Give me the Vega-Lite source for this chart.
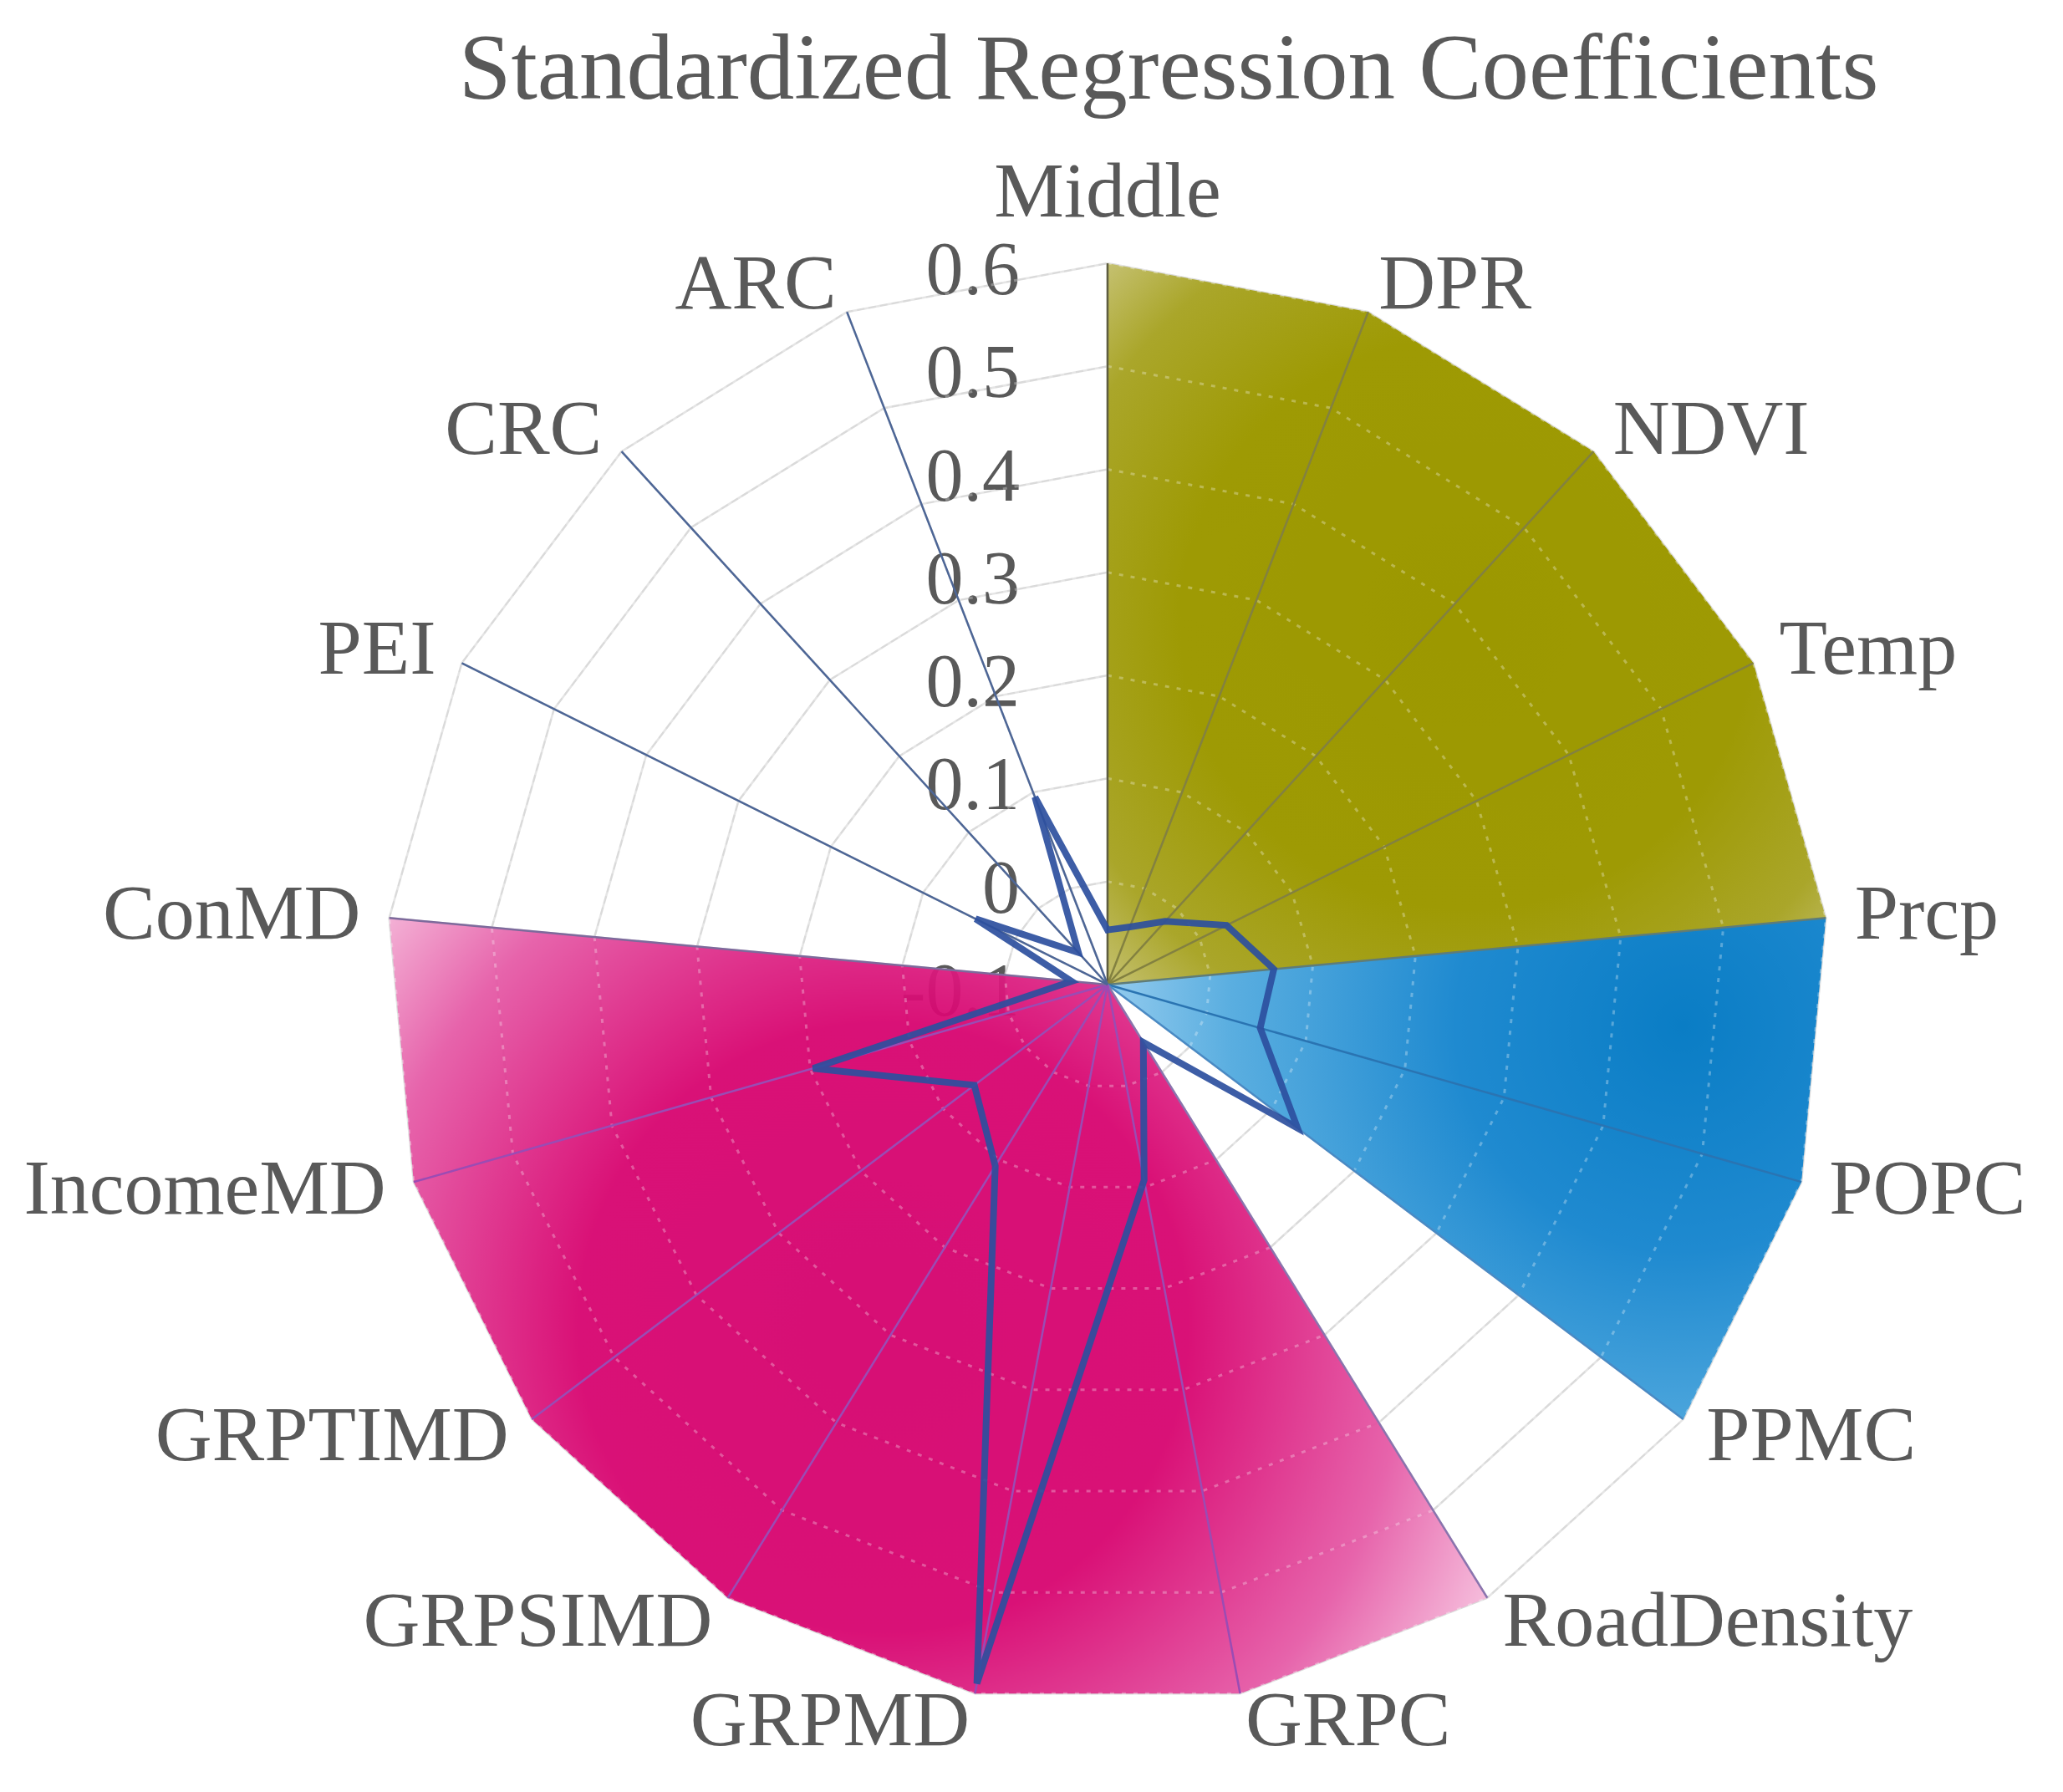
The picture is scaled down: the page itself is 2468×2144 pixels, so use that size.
{
  "$schema": "https://vega.github.io/schema/vega-lite/v6.json",
  "width": 2468,
  "height": 1944,
  "autosize": "none",
  "padding": {"top": 200, "left": 0, "right": 0, "bottom": 0},
  "background": "white",
  "title": {"text": "Standardized Regression Coefficients", "font": "Liberation Serif", "fontSize": 113, "fontWeight": "normal", "color": "#595959", "anchor": "middle", "frame": "group", "baseline": "alphabetic", "offset": 77, "dx": 164, "dy": 124},
  "config": {"view": {"stroke": null}},
  "datasets": {
    "coef": [
      {"name": "Middle", "idx": 0, "coef": -0.047},
      {"name": "DPR", "idx": 1, "coef": -0.04},
      {"name": "NDVI", "idx": 2, "coef": -0.017},
      {"name": "Temp", "idx": 3, "coef": 0.029},
      {"name": "Prcp", "idx": 4, "coef": 0.062},
      {"name": "POPC", "idx": 5, "coef": 0.054},
      {"name": "PPMC", "idx": 6, "coef": 0.131},
      {"name": "RoadDensity", "idx": 7, "coef": -0.034},
      {"name": "GRPC", "idx": 8, "coef": 0.093},
      {"name": "GRPMD", "idx": 9, "coef": 0.59},
      {"name": "GRPSIMD", "idx": 10, "coef": 0.107},
      {"name": "GRPTIMD", "idx": 11, "coef": 0.062},
      {"name": "IncomeMD", "idx": 12, "coef": 0.197},
      {"name": "ConMD", "idx": 13, "coef": -0.065},
      {"name": "PEI", "idx": 14, "coef": 0.043},
      {"name": "CRC", "idx": 15, "coef": -0.058},
      {"name": "ARC", "idx": 16, "coef": 0.095}
    ],
    "grid": [
      {"level": 0.0, "idx": [0,1,2,3,4,5,6,7,8,9,10,11,12,13,14,15,16]},
      {"level": 0.1, "idx": [0,1,2,3,4,5,6,7,8,9,10,11,12,13,14,15,16]},
      {"level": 0.2, "idx": [0,1,2,3,4,5,6,7,8,9,10,11,12,13,14,15,16]},
      {"level": 0.3, "idx": [0,1,2,3,4,5,6,7,8,9,10,11,12,13,14,15,16]},
      {"level": 0.4, "idx": [0,1,2,3,4,5,6,7,8,9,10,11,12,13,14,15,16]},
      {"level": 0.5, "idx": [0,1,2,3,4,5,6,7,8,9,10,11,12,13,14,15,16]},
      {"level": 0.6, "idx": [0,1,2,3,4,5,6,7,8,9,10,11,12,13,14,15,16]}
    ],
    "ticks": [
      {"t": -0.1, "lab": "-0.1"},
      {"t": 0.0, "lab": "0"},
      {"t": 0.1, "lab": "0.1"},
      {"t": 0.2, "lab": "0.2"},
      {"t": 0.3, "lab": "0.3"},
      {"t": 0.4, "lab": "0.4"},
      {"t": 0.5, "lab": "0.5"},
      {"t": 0.6, "lab": "0.6"}
    ],
    "bands": [
      {"band": "olive", "idx": 0, "v": 0.6}, {"band": "olive", "idx": 1, "v": 0.6}, {"band": "olive", "idx": 2, "v": 0.6},
      {"band": "olive", "idx": 3, "v": 0.6}, {"band": "olive", "idx": 4, "v": 0.6}, {"band": "olive", "idx": 5, "v": -0.1},
      {"band": "olive", "idx": 6, "v": -0.1}, {"band": "olive", "idx": 7, "v": -0.1}, {"band": "olive", "idx": 8, "v": -0.1},
      {"band": "olive", "idx": 9, "v": -0.1}, {"band": "olive", "idx": 10, "v": -0.1}, {"band": "olive", "idx": 11, "v": -0.1},
      {"band": "olive", "idx": 12, "v": -0.1}, {"band": "olive", "idx": 13, "v": -0.1}, {"band": "olive", "idx": 14, "v": -0.1},
      {"band": "olive", "idx": 15, "v": -0.1}, {"band": "olive", "idx": 16, "v": -0.1},
      {"band": "blue", "idx": 0, "v": -0.1}, {"band": "blue", "idx": 1, "v": -0.1}, {"band": "blue", "idx": 2, "v": -0.1},
      {"band": "blue", "idx": 3, "v": -0.1}, {"band": "blue", "idx": 4, "v": 0.6}, {"band": "blue", "idx": 5, "v": 0.6},
      {"band": "blue", "idx": 6, "v": 0.6}, {"band": "blue", "idx": 7, "v": -0.1}, {"band": "blue", "idx": 8, "v": -0.1},
      {"band": "blue", "idx": 9, "v": -0.1}, {"band": "blue", "idx": 10, "v": -0.1}, {"band": "blue", "idx": 11, "v": -0.1},
      {"band": "blue", "idx": 12, "v": -0.1}, {"band": "blue", "idx": 13, "v": -0.1}, {"band": "blue", "idx": 14, "v": -0.1},
      {"band": "blue", "idx": 15, "v": -0.1}, {"band": "blue", "idx": 16, "v": -0.1},
      {"band": "pink", "idx": 0, "v": -0.1}, {"band": "pink", "idx": 1, "v": -0.1}, {"band": "pink", "idx": 2, "v": -0.1},
      {"band": "pink", "idx": 3, "v": -0.1}, {"band": "pink", "idx": 4, "v": -0.1}, {"band": "pink", "idx": 5, "v": -0.1},
      {"band": "pink", "idx": 6, "v": -0.1}, {"band": "pink", "idx": 7, "v": 0.6}, {"band": "pink", "idx": 8, "v": 0.6},
      {"band": "pink", "idx": 9, "v": 0.6}, {"band": "pink", "idx": 10, "v": 0.6}, {"band": "pink", "idx": 11, "v": 0.6},
      {"band": "pink", "idx": 12, "v": 0.6}, {"band": "pink", "idx": 13, "v": 0.6}, {"band": "pink", "idx": 14, "v": -0.1},
      {"band": "pink", "idx": 15, "v": -0.1}, {"band": "pink", "idx": 16, "v": -0.1}
    ]
  },
  "encoding": {
    "x": {"field": "px", "type": "quantitative", "scale": {"domain": [-1.0747, 0.9271], "nice": false, "zero": false}, "axis": null},
    "y": {"field": "py", "type": "quantitative", "scale": {"domain": [-0.7835, 0.7932], "nice": false, "zero": false}, "axis": null}
  },
  "layer": [
    {
      "data": {"name": "grid"},
      "transform": [
        {"flatten": ["idx"]},
        {"calculate": "2*PI*datum.idx/17", "as": "ang"},
        {"calculate": "(datum.level+0.1)*sin(datum.ang)", "as": "px"},
        {"calculate": "(datum.level+0.1)*cos(datum.ang)", "as": "py"}
      ],
      "mark": {"type": "line", "interpolate": "linear-closed", "stroke": "#dadada", "strokeWidth": 2.5},
      "encoding": {"detail": {"field": "level"}, "order": {"field": "idx"}}
    },
    {
      "data": {"name": "coef"},
      "transform": [
        {"calculate": "2*PI*datum.idx/17", "as": "ang"},
        {"calculate": "0.7*sin(datum.ang)", "as": "px"},
        {"calculate": "0.7*cos(datum.ang)", "as": "py"}
      ],
      "mark": {"type": "rule", "stroke": "#dadada", "strokeWidth": 2.5},
      "encoding": {"x2": {"datum": 0}, "y2": {"datum": 0}}
    },
    {
      "data": {"name": "ticks"},
      "transform": [
        {"calculate": "0", "as": "px"},
        {"calculate": "datum.t+0.1", "as": "py"}
      ],
      "mark": {"type": "text", "align": "right", "baseline": "middle", "dx": -105, "dy": 10, "font": "Liberation Serif", "fontSize": 90, "color": "#595959"},
      "encoding": {"text": {"field": "lab"}}
    },
    {
      "data": {"name": "bands"},
      "transform": [
        {"filter": "datum.band === 'olive'"},
        {"calculate": "2*PI*datum.idx/17", "as": "ang"},
        {"calculate": "(datum.v+0.1)*sin(datum.ang)", "as": "px"},
        {"calculate": "(datum.v+0.1)*cos(datum.ang)", "as": "py"}
      ],
      "mark": {"type": "line", "interpolate": "linear-closed", "strokeWidth": 0,
        "fill": {"gradient": "radial", "x1": 0.5, "y1": 0.5, "r1": 0, "x2": 0.5, "y2": 0.5, "r2": 0.72,
          "stops": [{"offset": 0, "color": "#9c9800"}, {"offset": 0.55, "color": "#9e9a04"}, {"offset": 0.82, "color": "#aaa62a"}, {"offset": 1, "color": "#c8c47a"}]}},
      "encoding": {"order": {"field": "idx"}}
    },
    {
      "data": {"name": "bands"},
      "transform": [
        {"filter": "datum.band === 'blue'"},
        {"calculate": "2*PI*datum.idx/17", "as": "ang"},
        {"calculate": "(datum.v+0.1)*sin(datum.ang)", "as": "px"},
        {"calculate": "(datum.v+0.1)*cos(datum.ang)", "as": "py"}
      ],
      "mark": {"type": "line", "interpolate": "linear-closed", "strokeWidth": 0,
        "fill": {"gradient": "radial", "x1": 0.8, "y1": 0.3, "r1": 0, "x2": 0.8, "y2": 0.3, "r2": 0.9,
          "stops": [{"offset": 0, "color": "#0a7dc5"}, {"offset": 0.35, "color": "#1f8ad0"}, {"offset": 0.7, "color": "#5aaee0"}, {"offset": 1, "color": "#b4dcf6"}]}},
      "encoding": {"order": {"field": "idx"}}
    },
    {
      "data": {"name": "bands"},
      "transform": [
        {"filter": "datum.band === 'pink'"},
        {"calculate": "2*PI*datum.idx/17", "as": "ang"},
        {"calculate": "(datum.v+0.1)*sin(datum.ang)", "as": "px"},
        {"calculate": "(datum.v+0.1)*cos(datum.ang)", "as": "py"}
      ],
      "mark": {"type": "line", "interpolate": "linear-closed", "strokeWidth": 0, "fillOpacity": 0.94,
        "fill": {"gradient": "radial", "x1": 0.45, "y1": 0.52, "r1": 0, "x2": 0.45, "y2": 0.52, "r2": 0.66,
          "stops": [{"offset": 0, "color": "#d4006c"}, {"offset": 0.42, "color": "#d7026e"}, {"offset": 0.72, "color": "#e55aa6"}, {"offset": 1, "color": "#fce4f1"}]}},
      "encoding": {"order": {"field": "idx"}}
    },
    {
      "data": {"name": "grid"},
      "transform": [
        {"flatten": ["idx"]},
        {"calculate": "2*PI*datum.idx/17", "as": "ang"},
        {"calculate": "(datum.level+0.1)*sin(datum.ang)", "as": "px"},
        {"calculate": "(datum.level+0.1)*cos(datum.ang)", "as": "py"}
      ],
      "mark": {"type": "line", "interpolate": "linear-closed", "stroke": "#ffffff", "strokeOpacity": 0.3, "strokeWidth": 3, "strokeDash": [5, 9]},
      "encoding": {"detail": {"field": "level"}, "order": {"field": "idx"}}
    },
    {
      "data": {"name": "coef"},
      "transform": [
        {"calculate": "2*PI*datum.idx/17", "as": "ang"},
        {"calculate": "0.7*sin(datum.ang)", "as": "px"},
        {"calculate": "0.7*cos(datum.ang)", "as": "py"}
      ],
      "mark": {"type": "rule", "strokeWidth": 2.5},
      "encoding": {
        "x2": {"datum": 0}, "y2": {"datum": 0},
        "color": {"field": "name", "type": "nominal", "legend": null,
          "scale": {"domain": ["Middle","DPR","NDVI","Temp","Prcp","POPC","PPMC","RoadDensity","GRPC","GRPMD","GRPSIMD","GRPTIMD","IncomeMD","ConMD","PEI","CRC","ARC"],
            "range": ["#5e5d40","#838140","#838140","#838140","#5f7c78","#2a74b2","#4a8ac4","#8a74ae","#9a4cb4","#9a4cb4","#9a4cb4","#9a4cb4","#9a4cb4","#7d6a9c","#4d6696","#4d6696","#4d6696"]}}
      }
    },
    {
      "data": {"name": "coef"},
      "transform": [
        {"calculate": "2*PI*datum.idx/17", "as": "ang"},
        {"calculate": "(datum.coef+0.1)*sin(datum.ang)", "as": "px"},
        {"calculate": "(datum.coef+0.1)*cos(datum.ang)", "as": "py"}
      ],
      "mark": {"type": "line", "interpolate": "linear-closed", "stroke": "#2c4f9e", "strokeOpacity": 0.92, "strokeWidth": 8, "strokeJoin": "miter"},
      "encoding": {"order": {"field": "idx"}}
    },
    {
      "data": {"name": "coef"},
      "transform": [
        {"filter": "datum.idx === 0"},
        {"calculate": "2*PI*datum.idx/17", "as": "ang"},
        {"calculate": "0.745*sin(datum.ang)", "as": "px"},
        {"calculate": "0.745*cos(datum.ang)", "as": "py"}
      ],
      "mark": {"type": "text", "align": "center", "baseline": "alphabetic", "font": "Liberation Serif", "fontSize": 94, "color": "#595959"},
      "encoding": {"text": {"field": "name"}}
    },
    {
      "data": {"name": "coef"},
      "transform": [
        {"filter": "datum.idx >= 1 && datum.idx <= 8"},
        {"calculate": "2*PI*datum.idx/17", "as": "ang"},
        {"calculate": "0.728*sin(datum.ang)", "as": "px"},
        {"calculate": "0.728*cos(datum.ang)", "as": "py"}
      ],
      "mark": {"type": "text", "align": "left", "baseline": "middle", "font": "Liberation Serif", "fontSize": 94, "color": "#595959"},
      "encoding": {"text": {"field": "name"}}
    },
    {
      "data": {"name": "coef"},
      "transform": [
        {"filter": "datum.idx >= 9"},
        {"calculate": "2*PI*datum.idx/17", "as": "ang"},
        {"calculate": "0.728*sin(datum.ang)", "as": "px"},
        {"calculate": "0.728*cos(datum.ang)", "as": "py"}
      ],
      "mark": {"type": "text", "align": "right", "baseline": "middle", "font": "Liberation Serif", "fontSize": 94, "color": "#595959"},
      "encoding": {"text": {"field": "name"}}
    }
  ]
}
